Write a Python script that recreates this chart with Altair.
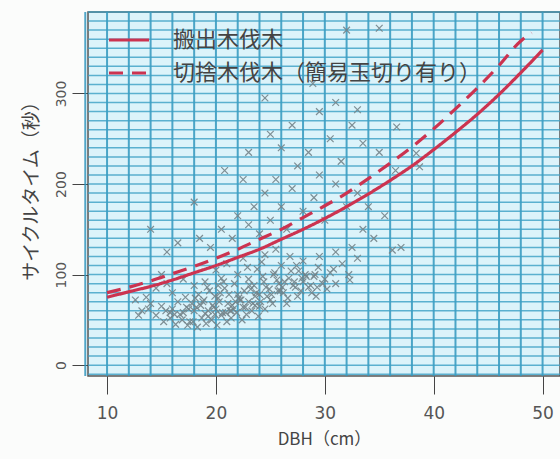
import altair as alt
import pandas as pd

# --- scatter (DBH cm, cycle time s) ---
dbh_pts = [
    14.5, 15.2, 15.8, 16.3, 16.9, 17.4, 17.9, 18.3, 18.7, 19.1, 19.6, 20.1, 20.5, 21.0, 21.4,
    21.9, 22.4, 22.8, 23.3, 23.9, 24.5, 17.0, 18.0, 19.0, 20.0, 16.0, 15.0, 14.0, 13.2, 12.6,
    13.6, 16.5, 17.2, 17.8, 18.4, 18.9, 19.4, 19.9, 20.3, 20.8, 21.2, 21.7, 22.1, 22.6, 23.0,
    23.5, 24.0, 24.4, 24.9, 25.3, 25.8, 26.2, 26.7, 27.1, 27.6, 28.0, 28.5, 29.0, 29.4, 30.0,
    30.5, 31.0, 31.6, 32.2, 19.0, 20.5, 22.0, 23.8, 21.5, 23.0, 25.0, 26.5, 27.5, 28.8, 30.2,
    18.0, 17.0, 16.0, 15.5, 15.0, 14.5, 24.0, 22.5, 26.0, 28.0, 29.5, 31.0, 32.5, 33.0, 20.0,
    21.0, 22.5, 24.5, 25.5, 15.5, 16.5, 14.0, 18.5, 19.5, 20.5, 21.5, 22.0, 23.0, 23.5, 24.0,
    24.5, 25.0, 25.5, 26.0, 26.5, 27.0, 27.5, 28.0, 28.5, 29.0, 29.5, 30.0, 30.5, 31.0, 31.5,
    32.0, 32.5, 33.0, 33.5, 34.0, 34.5, 35.0, 35.5, 36.5, 37.0, 24.5, 28.9, 32.0, 35.0, 26.0,
    22.5, 20.8, 18.0, 27.0, 29.5, 31.0, 23.0, 25.0, 33.5, 36.6, 33.0, 38.4, 38.7, 36.2, 32.3,
    29.3, 17.5, 18.6, 19.8, 20.9, 22.2, 23.4, 24.7, 25.9, 27.3, 16.2, 17.6, 19.3, 21.3, 23.7,
    26.3, 28.3, 15.8, 13.8, 12.9,
    18.2, 18.8, 19.3, 19.7, 20.2, 20.6, 21.1, 21.6, 22.0, 22.3, 22.7, 23.2, 23.6, 24.1, 24.6,
    25.1, 25.6, 26.1, 26.6, 27.2, 27.8, 28.2, 28.7, 29.2, 29.8, 20.4, 21.8, 23.1, 24.3, 25.7,
    26.9, 27.9, 19.2, 20.7, 22.9, 24.2, 25.4, 26.8, 17.3, 16.7, 15.4, 19.9, 21.4, 23.6, 25.2,
    27.4, 29.1, 30.8, 18.1, 20.2,
]
time_pts = [
    55, 48, 52, 45, 50, 44, 48, 42, 52, 46, 50, 44, 55, 48, 52,
    58, 50, 56, 60, 54, 62, 58, 60, 57, 62, 62, 65, 68, 60, 72,
    75, 70, 75, 68, 78, 72, 82, 76, 70, 85, 78, 90, 74, 82, 95,
    88, 78, 92, 84, 100, 90, 80, 96, 88, 104, 92, 86, 98, 108, 95,
    102, 90, 112, 100, 92, 96, 100, 106, 66, 70, 72, 68, 76, 80, 84,
    88, 95, 80, 90, 100, 85, 65, 64, 110, 115, 120, 125, 130, 118, 105,
    112, 118, 122, 128, 125, 135, 150, 140, 130, 150, 140, 165, 155, 175, 145,
    190, 160, 205, 175, 150, 195, 220, 170, 235, 185, 210, 160, 250, 200, 225,
    175, 265, 190, 150, 175, 140, 235, 165, 215, 130, 295, 311, 370, 372, 240,
    205, 215, 180, 265, 280, 290, 235, 255, 245, 263, 282, 234, 219, 127, 94,
    86, 62, 66, 64, 58, 72, 68, 76, 82, 86, 56, 48, 54, 60, 80,
    92, 98, 58, 62, 55,
    64, 70, 60, 66, 74, 58, 68, 62, 78, 72, 64, 84, 76, 70, 86,
    78, 94, 86, 74, 92, 82, 100, 88, 76, 90, 80, 70, 88, 98, 82,
    104, 96, 86, 92, 108, 114, 102, 120, 64, 56, 60, 56, 60, 66, 68,
    110, 100, 106, 74, 88,
]

# --- fitted curves ---
curve_x_solid = [10, 12, 14, 16, 18, 20, 22, 24, 26, 28, 30, 32, 34, 36, 38, 40, 42, 44, 46, 48, 50]
curve_y_solid = [75, 81, 87, 94, 102, 110, 119, 128, 139, 150, 162, 175, 189, 204, 220, 238, 257, 277, 299, 323, 348]
curve_x_dash = [10, 12, 14, 16, 18, 20, 22, 24, 26, 28, 30, 32, 34, 36, 38, 40, 42, 44, 46, 48, 49]
curve_y_dash = [80, 86, 93, 101, 109, 118, 128, 139, 150, 163, 176, 190, 206, 223, 241, 261, 283, 306, 331, 358, 367]

series_names = ["搬出木伐木", "切捨木伐木（簡易玉切り有り）"]

x_ticks = [10, 20, 30, 40, 50]
y_ticks = [0, 100, 200, 300]
grid_x = list(range(8, 52, 2))
grid_y = list(range(-10, 391, 10))

X_DOM = [8.25, 51.6]
Y_DOM = [-12, 390]

pts = pd.DataFrame({"dbh": dbh_pts, "t": time_pts})
curves = pd.DataFrame({
    "dbh": curve_x_solid + curve_x_dash,
    "t": curve_y_solid + curve_y_dash,
    "series": [series_names[0]] * len(curve_x_solid) + [series_names[1]] * len(curve_x_dash),
})
gx = pd.DataFrame({"gx": grid_x})
gy = pd.DataFrame({"gy": grid_y})

xs = alt.Scale(domain=X_DOM, nice=False, zero=False)
ys = alt.Scale(domain=Y_DOM, nice=False, zero=False)

x_axis = alt.Axis(values=x_ticks, title="DBH（cm）", grid=False, domain=False,
                  tickSize=18, tickColor="#444", labelFontSize=17, labelColor="#555",
                  labelFont="DejaVu Sans", labelPadding=11, titleFontSize=17,
                  titleColor="#444", titleFont="Noto Sans CJK JP", titleFontWeight="normal",
                  titlePadding=10)
y_axis = alt.Axis(values=y_ticks, title="サイクルタイム（秒）", grid=False, domain=False,
                  tickSize=16, tickColor="#444", labelFontSize=14, labelColor="#555",
                  labelFont="DejaVu Sans", labelAngle=270, labelAlign="center",
                  labelBaseline="bottom", labelPadding=4, titleFontSize=19,
                  titleColor="#444", titleFont="Noto Sans CJK JP", titleFontWeight="normal",
                  titleAngle=270, titleAlign="center", titleBaseline="bottom",
                  titleX=-47, titleY=174, titleLimit=0)

X = lambda f: alt.X(f, scale=xs, axis=x_axis, title="DBH（cm）")
Y = lambda f: alt.Y(f, scale=ys, axis=y_axis, title="サイクルタイム（秒）")

vgrid = alt.Chart(gx).mark_rule(color="#3196bd", strokeWidth=2, opacity=0.85).encode(
    x=X("gx:Q")
)
hgrid = alt.Chart(gy).mark_rule(color="#3a9fc4", strokeWidth=1.5, opacity=0.8).encode(
    y=Y("gy:Q")
)

points = alt.Chart(pts).mark_point(
    shape="M-1,-1L1,1M-1,1L1,-1", size=45, filled=False, color="#74848a",
    strokeWidth=1.2, opacity=0.9,
).encode(
    x=X("dbh:Q"),
    y=Y("t:Q"),
)

lines = alt.Chart(curves).mark_line(strokeWidth=3.2, interpolate="monotone").encode(
    x=X("dbh:Q"),
    y=Y("t:Q"),
    color=alt.Color("series:N",
                    scale=alt.Scale(domain=series_names, range=["#cc3350", "#cc3350"]),
                    legend=alt.Legend(title=None, orient="none", legendX=19, legendY=6,
                                      symbolType="stroke", symbolSize=1600,
                                      symbolStrokeWidth=3.2, labelFontSize=22,
                                      labelFont="Noto Sans CJK JP", labelColor="#444",
                                      labelOffset=22, labelLimit=0, rowPadding=0,
                                      padding=0)),
    strokeDash=alt.StrokeDash("series:N",
                              scale=alt.Scale(domain=series_names, range=[[1, 0], [14, 9]]),
                              legend=None),
    detail="series:N",
)

chart = alt.layer(vgrid, hgrid, points, lines).properties(
    width=472, height=364,
    padding={"left": 88, "top": 12, "right": 0, "bottom": 83},
    autosize="none",
    background="#fbfcfb",
).configure_view(
    fill="#dcf3fa", stroke="#555", strokeWidth=1.5,
)

chart.save("out.html", embed_options={"renderer": "svg", "actions": False})
